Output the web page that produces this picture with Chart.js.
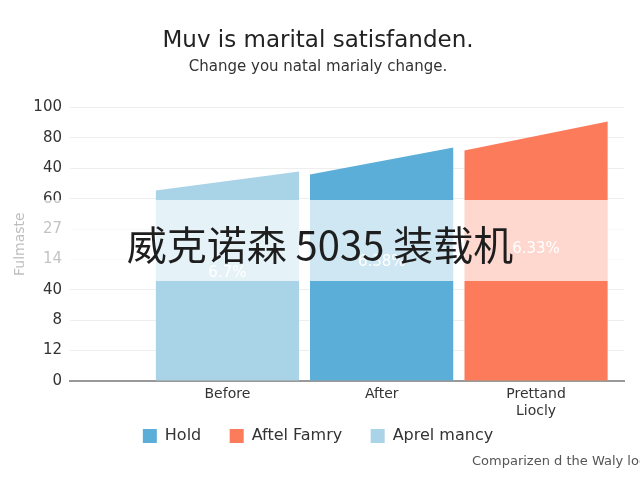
<!DOCTYPE html>
<html>
<head>
<meta charset="utf-8">
<script src="https://cdn.jsdelivr.net/npm/chart.js@4/dist/chart.umd.min.js"></script>
<style>
  html, body { margin: 0; padding: 0; background: #fff; }
  #wrap { position: relative; width: 640px; height: 480px; }
</style>
</head>
<body>
<div id="wrap"><canvas id="grafico"></canvas></div>
<script>
// data
const categories = ['Before', 'After', ['Prettand', 'Liocly']];
const seriesNames = ['Hold', 'Aftel Famry', 'Aprel mancy'];
const seriesCategory = [1, 2, 0];           // which category each series' bar sits on
const seriesStart = [75.5, 84.3, 69.7];     // bar top at its left edge
const seriesEnd = [85.4, 94.9, 76.6];       // bar top at its right edge
const seriesLabels = ['6.38%', '6.33%', '6.7%'];
const seriesColors = ['#5aaed7', '#fc7b5b', '#a9d3e7'];
const yTickLabels = ['0', '12', '8', '40', '14', '27', '60', '40', '80', '100'];

const halfBar = 0.465;
const legendGap = '     '; // widens the space between legend items

Chart.defaults.font.family = "'DejaVu Sans', sans-serif";
Chart.defaults.color = '#333';

const datasets = seriesNames.map((name, i) => {
    const c = seriesCategory[i];
    return {
        label: name,
        data: [
            { x: c - halfBar, y: seriesStart[i] },
            { x: c + halfBar, y: seriesEnd[i] }
        ],
        backgroundColor: seriesColors[i],
        borderColor: seriesColors[i],
        borderWidth: 0,
        pointRadius: 0,
        tension: 0,
        fill: 'origin'
    };
});

// white % labels inside the bars
const barLabels = {
    id: 'barLabels',
    afterDatasetsDraw(chart) {
        const { ctx, scales: { x, y } } = chart;
        ctx.save();
        ctx.fillStyle = '#fff';
        ctx.font = "15px 'DejaVu Sans', sans-serif";
        ctx.textAlign = 'center';
        ctx.textBaseline = 'middle';
        seriesNames.forEach((_, i) => {
            const mean = (seriesStart[i] + seriesEnd[i]) / 2;
            ctx.fillText(seriesLabels[i], x.getPixelForValue(seriesCategory[i]), y.getPixelForValue(mean * 0.54));
        });
        ctx.restore();
    }
};

// watermark band, caption and footnote
const overlay = {
    id: 'overlay',
    afterDraw(chart) {
        const { ctx, width } = chart;
        ctx.save();
        ctx.fillStyle = 'rgba(255,255,255,0.7)';
        ctx.fillRect(0, 200, width, 81);
        ctx.fillStyle = '#1e1e1e';
        ctx.font = "40px 'Noto Sans CJK SC', sans-serif";
        ctx.textAlign = 'center';
        ctx.textBaseline = 'middle';
        ctx.fillText('威克诺森 5035 装载机', 320, 245);
        ctx.fillStyle = '#555';
        ctx.font = "13px 'DejaVu Sans', sans-serif";
        ctx.textAlign = 'left';
        ctx.fillText('Comparizen d the Waly lodi', 472, 462);
        ctx.restore();
    }
};

new Chart(document.getElementById('grafico'), {
    type: 'line',
    data: { datasets },
    plugins: [barLabels, overlay],
    options: {
        responsive: true,
        maintainAspectRatio: false,
        animation: false,
        layout: { padding: { left: 12, right: 16, top: 0, bottom: 29 } },
        scales: {
            x: {
                type: 'linear',
                min: -1.02,
                max: 2.57,
                afterBuildTicks: (scale) => { scale.ticks = categories.map((_, i) => ({ value: i })); },
                ticks: {
                    autoSkip: false,
                    maxRotation: 0,
                    padding: 6,
                    color: '#333',
                    font: { size: 14, lineHeight: 1.15 },
                    callback: (v, idx) => categories[idx]
                },
                grid: { display: false, drawTicks: false },
                border: { display: true, color: '#999', width: 2 }
            },
            y: {
                min: 0,
                max: 100,
                afterBuildTicks: (scale) => {
                    scale.ticks = yTickLabels.map((_, i) => ({ value: i * 100 / (yTickLabels.length - 1) }));
                },
                afterFit: (scale) => { scale.width = 58; },
                ticks: {
                    padding: 8,
                    color: '#333',
                    font: { size: 15 },
                    callback: (v, idx) => yTickLabels[idx]
                },
                grid: { color: '#eeeeee', drawTicks: false },
                border: { display: false },
                title: {
                    display: true,
                    text: 'Fulmaste',
                    color: '#222',
                    font: { size: 14 },
                    padding: 0
                }
            }
        },
        plugins: {
            title: {
                display: true,
                text: 'Muv is marital satisfanden.',
                color: '#222',
                font: { size: 23, weight: 'normal' },
                padding: { top: 27, bottom: 4 }
            },
            subtitle: {
                display: true,
                text: 'Change you natal marialy change.',
                color: '#333',
                font: { size: 15 },
                padding: { top: 0, bottom: 31 }
            },
            legend: {
                position: 'bottom',
                maxHeight: 26,
                labels: {
                    boxWidth: 14,
                    boxHeight: 14,
                    padding: 3,
                    color: '#333',
                    font: { size: 16 },
                    generateLabels: (chart) => {
                        const items = Chart.defaults.plugins.legend.labels.generateLabels(chart);
                        items.forEach((item, i) => {
                            if (i < items.length - 1) item.text += legendGap;
                        });
                        return items;
                    }
                }
            },
            tooltip: { enabled: false }
        }
    }
});
</script>
</body>
</html>
